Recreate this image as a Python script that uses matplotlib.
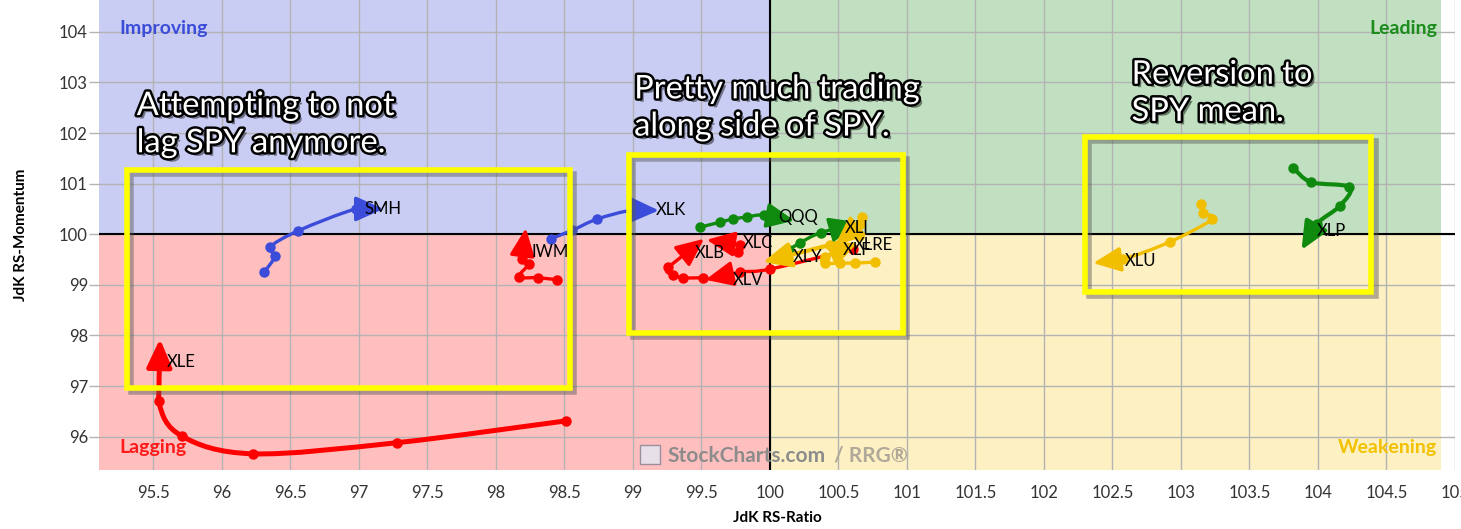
import matplotlib
matplotlib.use('Agg')
import matplotlib.pyplot as plt
import matplotlib.patheffects as pe
from matplotlib.patches import Rectangle, PathPatch
from matplotlib.path import Path
import numpy as np

# RRG tails: oldest point first, head (arrow) last
smh_x = [96.31, 96.39, 96.35, 96.56, 96.98, 97.18]
smh_y = [99.25, 99.57, 99.74, 100.07, 100.50, 100.50]
xlk_x = [98.40, 98.56, 98.74, 99.00, 99.19]
xlk_y = [99.91, 100.08, 100.30, 100.48, 100.47]
iwm_x = [98.45, 98.31, 98.17, 98.24, 98.19, 98.22]
iwm_y = [99.10, 99.14, 99.16, 99.41, 99.51, 100.12]
xle_x = [98.51, 97.28, 96.23, 95.71, 95.54, 95.55]
xle_y = [96.31, 95.88, 95.66, 96.01, 96.71, 97.93]
qqq_x = [99.49, 99.64, 99.73, 99.83, 99.96, 100.18]
qqq_y = [100.14, 100.24, 100.30, 100.34, 100.38, 100.27]
xli_x = [100.14, 100.22, 100.37, 100.64]
xli_y = [99.69, 99.83, 100.03, 100.24]
xly_x = [100.65, 100.44, 99.95]
xly_y = [99.97, 99.79, 99.45]
xlf_x = [100.67, 100.66, 100.58, 100.48]
xlf_y = [100.34, 100.20, 100.03, 99.81]
xlre_x = [100.77, 100.62, 100.51, 100.40, 100.40, 100.64]
xlre_y = [99.45, 99.43, 99.43, 99.43, 99.55, 99.83]
xlv_x = [100.61, 100.00, 99.78, 99.53]
xlv_y = [99.71, 99.31, 99.25, 99.10]
xlb_x = [99.51, 99.37, 99.29, 99.26, 99.52]
xlb_y = [99.14, 99.14, 99.20, 99.35, 99.91]
xlc_x = [99.77, 99.78, 99.54]
xlc_y = [99.65, 99.79, 99.89]
xlu_x = [103.15, 103.16, 103.23, 102.92, 102.58, 102.36]
xlu_y = [100.60, 100.42, 100.30, 99.85, 99.51, 99.43]
xlp_x = [103.82, 103.95, 104.23, 104.16, 103.99, 103.88]
xlp_y = [101.31, 101.03, 100.93, 100.56, 100.20, 99.69]

x_ticks = [95.5, 96, 96.5, 97, 97.5, 98, 98.5, 99, 99.5, 100, 100.5, 101,
           101.5, 102, 102.5, 103, 103.5, 104, 104.5, 105]
y_ticks = [96, 97, 98, 99, 100, 101, 102, 103, 104]

blue = '#3a4cd9'
red = '#ff0000'
green = '#0f8a0f'
gold = '#f2bf00'

plt.rcParams['font.family'] = ['Lato', 'DejaVu Sans']

fig = plt.figure(figsize=(14.61, 5.29), dpi=100)
ax = fig.add_axes([99 / 1461, 59 / 529, 1356 / 1461, 470 / 529])
x0, x1 = 95.105, 104.895
y0, y1 = 95.34, 104.63
ax.set_xlim(x0, x1)
ax.set_ylim(y0, y1)

# quadrant backgrounds
ax.add_patch(Rectangle((x0, 100), 100 - x0, y1 - 100, fc='#c9cdf3', ec='none', zorder=0))
ax.add_patch(Rectangle((100, 100), x1 - 100, y1 - 100, fc='#c1e0c1', ec='none', zorder=0))
ax.add_patch(Rectangle((x0, y0), 100 - x0, 100 - y0, fc='#ffbfbf', ec='none', zorder=0))
ax.add_patch(Rectangle((100, y0), x1 - 100, 100 - y0, fc='#fdf0c2', ec='none', zorder=0))

ax.set_axisbelow(True)
ax.grid(color='#b3b3b3', lw=1)
ax.axhline(100, color='black', lw=1.5, zorder=1)
ax.axvline(100, color='black', lw=1.5, zorder=1)
for s in ax.spines.values():
    s.set_visible(False)

ax.set_xticks(x_ticks)
ax.set_xticklabels([('%g' % t) for t in x_ticks])
ax.set_yticks(y_ticks)
ax.tick_params(axis='x', length=0, pad=11, labelsize=12, labelcolor='#333333')
ax.tick_params(axis='y', length=7, width=1, color='#b3b3b3', pad=1, labelsize=12, labelcolor='#333333')

fig.text(777 / 1461, 1 - 518 / 529, 'JdK RS-Ratio', ha='center', va='center',
         fontsize=11, fontweight='bold')
fig.text(21 / 1461, 1 - 235 / 529, 'JdK RS-Momentum', ha='center', va='center',
         rotation=90, fontsize=11, fontweight='bold')

# quadrant names
ax.text(0.015, 0.94, 'Improving', transform=ax.transAxes, color=blue, fontsize=14,
        fontweight='bold', va='center')
ax.text(0.987, 0.94, 'Leading', transform=ax.transAxes, color='#1c8c1c', fontsize=14,
        fontweight='bold', va='center', ha='right')
ax.text(0.015, 0.047, 'Lagging', transform=ax.transAxes, color='#ff1a1a', fontsize=14,
        fontweight='bold', va='center')
ax.text(0.987, 0.047, 'Weakening', transform=ax.transAxes, color='#f2c200', fontsize=14,
        fontweight='bold', va='center', ha='right')

# watermark
ax.add_patch(Rectangle((99.05, 95.45), 0.15, 0.38, fc='#e8e0e8', ec='#9a8f9a', lw=1, zorder=2))
ax.text(99.25, 95.62, 'StockCharts.com', color='#8c8c8c', fontsize=15, fontweight='bold',
        va='center', zorder=2)
ax.text(100.47, 95.62, '/ RRG\u00ae', color='#b0a898', fontsize=15, fontweight='bold',
        va='center', zorder=2)


def smooth(pts):
    n = len(pts)
    verts = [pts[0]]
    codes = [Path.MOVETO]
    for i in range(n - 2):
        p0 = pts[i - 1] if i > 0 else pts[i]
        p3 = pts[i + 2]
        c1 = pts[i] + (pts[i + 1] - p0) / 6
        c2 = pts[i + 1] - (p3 - pts[i]) / 6
        verts += [c1, c2, pts[i + 1]]
        codes += [Path.CURVE4] * 3
    return Path(verts, codes)


def track(xs, ys, color, lw=2.4):
    pts = np.column_stack([xs, ys])
    if len(pts) > 2:
        ax.add_patch(PathPatch(smooth(pts), fill=False, ec=color, lw=lw,
                               capstyle='round', joinstyle='round', zorder=4))
    ax.plot(pts[:-1, 0], pts[:-1, 1], 'o', color=color, ms=6.5, zorder=5)
    ax.annotate('', xy=pts[-1], xytext=pts[-2], zorder=6,
                arrowprops=dict(arrowstyle='-|>,head_length=1.0,head_width=0.45',
                                mutation_scale=17, color=color, lw=lw,
                                shrinkA=0, shrinkB=0))


track(smh_x, smh_y, blue)
track(xlk_x, xlk_y, blue)
track(iwm_x, iwm_y, red)
track(xle_x, xle_y, red, lw=3.6)
track(xlv_x, xlv_y, red)
track(xlb_x, xlb_y, red)
track(xlc_x, xlc_y, red)
track(qqq_x, qqq_y, green)
track(xli_x, xli_y, green)
track(xlp_x, xlp_y, green, lw=3.0)
track(xlre_x, xlre_y, gold)
track(xlf_x, xlf_y, gold)
track(xly_x, xly_y, gold, lw=3.0)
track(xlu_x, xlu_y, gold)

label_pos = {
    'SMH': (97.04, 100.50), 'XLK': (99.17, 100.48), 'IWM': (98.26, 99.65),
    'XLE': (95.60, 97.47), 'QQQ': (100.06, 100.34), 'XLI': (100.55, 100.12),
    'XLC': (99.80, 99.83), 'XLB': (99.45, 99.63), 'XLY': (100.17, 99.55),
    'XLF': (100.53, 99.69), 'XLRE': (100.61, 99.79), 'XLV': (99.73, 99.10),
    'XLU': (102.59, 99.47), 'XLP': (103.99, 100.07),
}
for name, (lx, ly) in label_pos.items():
    ax.text(lx, ly, name, fontsize=12, va='center', ha='left', color='black', zorder=7)

# yellow annotation boxes with a soft outline shadow
shadow_box = [pe.SimpleLineShadow(offset=(3, -3), shadow_color='#555555', alpha=0.45),
              pe.Normal()]
for bx, by, bw, bh in [(95.31, 96.96, 3.23, 4.31), (98.97, 98.05, 2.0, 3.52),
                       (102.30, 98.86, 2.09, 3.06)]:
    ax.add_patch(Rectangle((bx, by), bw, bh, fill=False, ec='#ffff00', lw=4,
                           zorder=8, path_effects=shadow_box))

txt_fx = [pe.SimplePatchShadow(offset=(2.5, -2.5), shadow_rgbFace='black', alpha=0.45),
          pe.Stroke(linewidth=3.5, foreground='black'), pe.Normal()]
notes = [(95.38, 102.83, 'Attempting to not\nlag SPY anymore.'),
         (99.01, 103.16, 'Pretty much trading\nalong side of SPY.'),
         (102.64, 103.45, 'Reversion to\nSPY mean.')]
for tx, ty, s in notes:
    ax.text(tx, ty, s, fontsize=23.5, color='white', va='top', ha='left',
            linespacing=1.3, zorder=9, path_effects=txt_fx)

fig.savefig('out.png', dpi=100)
